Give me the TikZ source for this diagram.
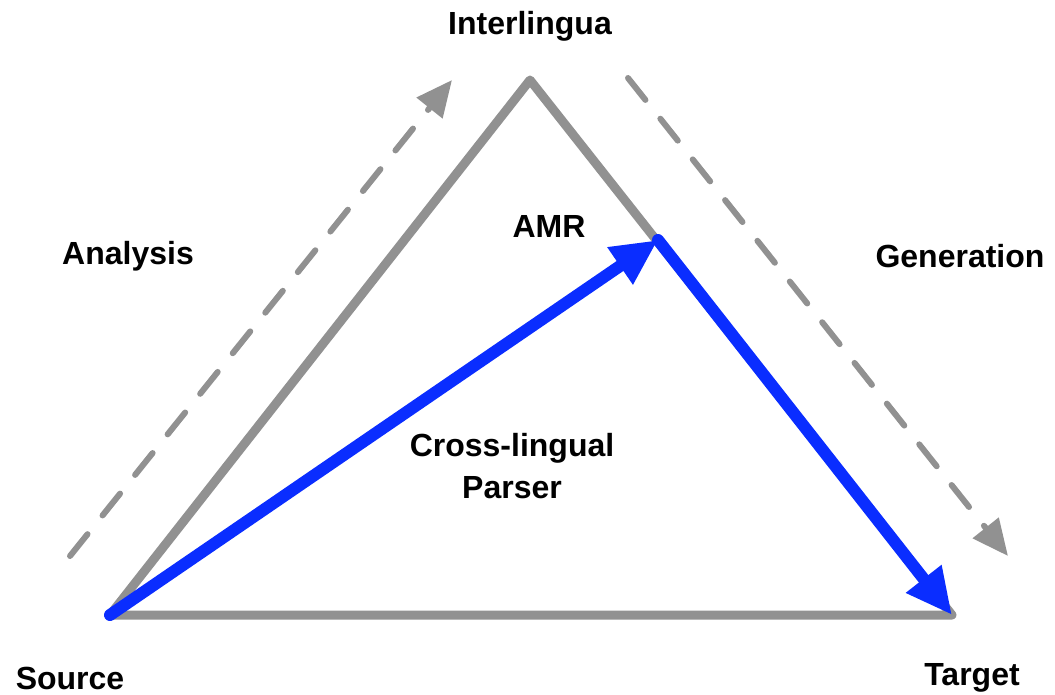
\documentclass[tikz,border=0pt]{standalone}
\usepackage{fontspec}
\setmainfont{Liberation Sans}
\usetikzlibrary{arrows.meta}
\definecolor{tgray}{RGB}{145,145,145}
\definecolor{tblue}{RGB}{10,45,255}
\begin{document}
\begin{tikzpicture}[x=1pt,y=-1pt,
  lbl/.style={font=\fontsize{32}{38}\selectfont\bfseries, inner sep=0pt, align=center},
  edge/.style={draw=tgray, line width=9pt, line cap=round, line join=round},
  bluearrow/.style={draw=tblue, line width=12pt, line cap=round, -{Triangle[length=46pt,width=42pt]}},
  dasharrow/.style={draw=tgray, line width=6pt, line cap=round, dash pattern=on 28pt off 24pt, -{Triangle[length=36pt,width=32pt]}}]
\useasboundingbox (0,0) rectangle (1055,694);
\coordinate (S) at (110,615);
\coordinate (I) at (530,80);
\coordinate (T) at (952,615);
\coordinate (A) at (658,240);
\coordinate (d1) at (70,556);
\coordinate (d2) at (452,80);
\coordinate (d3) at (628,78);
\coordinate (d4) at (1008,556);
\draw[edge] (S) -- (I) -- (T) -- cycle;
\draw[dasharrow] (d1) -- (d2);
\draw[dasharrow] (d3) -- (d4);
\draw[bluearrow] (S) -- (A);
\draw[bluearrow] (A) -- (T);
\node[lbl] (ti) at (530,26) {Interlingua};
\node[lbl] (ta) at (128,256) {Analysis};
\node[lbl] (tg) at (960,256) {Generation};
\node[lbl] (tm) at (549,226) {AMR};
\node[lbl] (tc) at (512,466) {Cross-lingual\\[4pt]Parser};
\node[lbl] (ts) at (70,678) {Source};
\node[lbl] (tt) at (972,678) {Target};
\end{tikzpicture}
\end{document}
